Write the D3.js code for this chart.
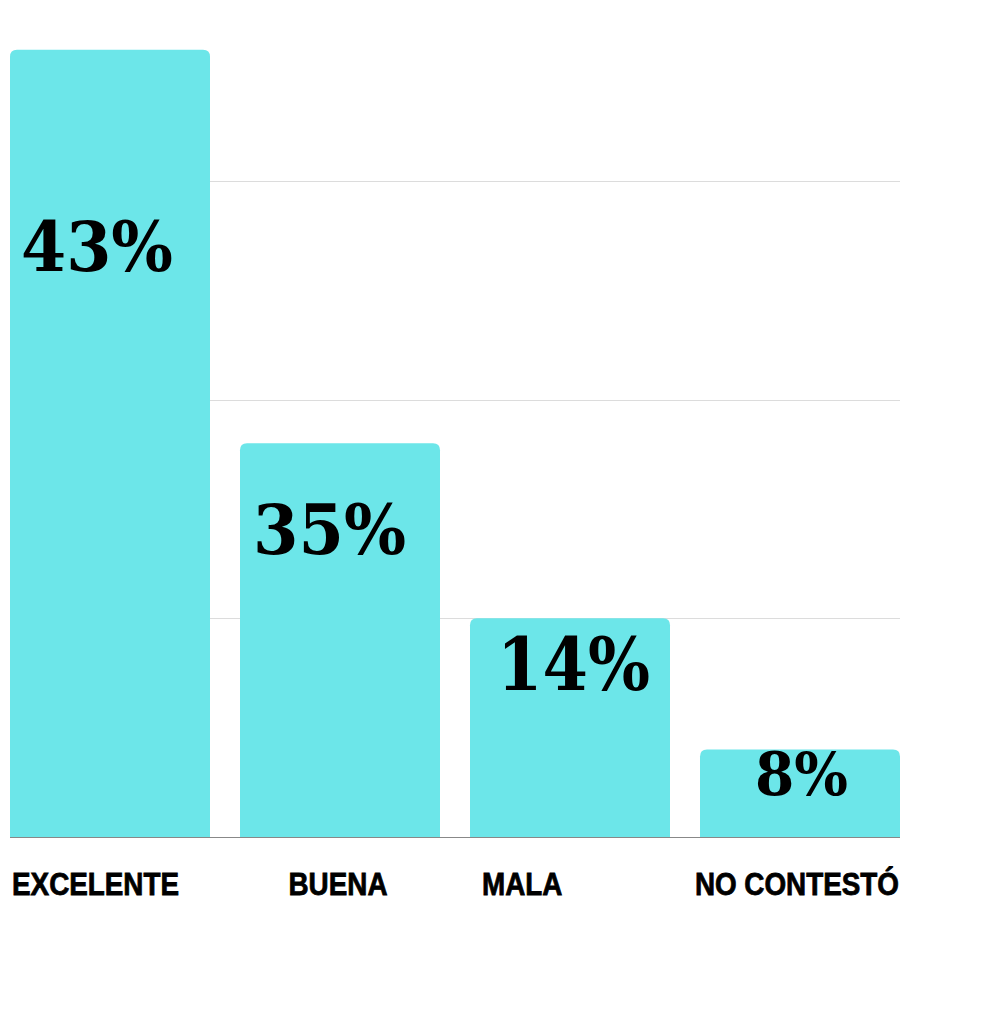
<!DOCTYPE html>
<html>
<head>
<meta charset="utf-8">
<script src="https://cdn.jsdelivr.net/npm/d3@7"></script>
<style>
    html, body { margin: 0; padding: 0; background: #fff; }
    svg { display: block; }
</style>
</head>
<body>
<div id="chart"></div>
<script>
// Encuesta: calificación — barras verticales con porcentaje dentro de cada barra

var categories = ['EXCELENTE', 'BUENA', 'MALA', 'NO CONTESTÓ'];
var values = [36, 18, 10, 4];          // altura de la barra (unidades del eje)
var valueLabels = ['43%', '35%', '14%', '8%'];
var gridTicks = [10, 20, 30];

var BAR_COLOR = '#6ce6e9';

// Ubicación de los textos (no son datos)
var valueLabelLayout = [
    { dx: 11, dy: 221, size: 70, w: 152 },
    { dx: 13, dy: 111, size: 70, w: 153 },
    { dx: 27, dy: 72, size: 72, w: 153 },
    { dx: 55, dy: 45, size: 59, w: 93 }
];
var catLabelLayout = [
    { anchor: 'start', dx: 2 },
    { anchor: 'middle', dx: -2 },
    { anchor: 'start', dx: 12 },
    { anchor: 'end', dx: -1 }
];

var width = 993, height = 1024;
var baseline = 837;

var svg = d3.select('#chart').append('svg')
    .attr('width', width)
    .attr('height', height);

var x = d3.scaleBand()
    .domain(categories)
    .range([10, 900])
    .paddingInner(30 / 230)
    .paddingOuter(0);

var y = d3.scaleLinear()
    .domain([0, 40])
    .range([baseline, baseline - 874.8]);

// Grid lines
svg.append('g')
    .selectAll('line')
    .data(gridTicks)
    .join('line')
    .attr('x1', 10)
    .attr('x2', 900)
    .attr('y1', function(d) { return Math.round(y(d)) + 0.5; })
    .attr('y2', function(d) { return Math.round(y(d)) + 0.5; })
    .attr('stroke', '#dcdcdc')
    .attr('stroke-width', 1);

// Baseline
svg.append('line')
    .attr('x1', 10)
    .attr('x2', 900)
    .attr('y1', baseline + 0.5)
    .attr('y2', baseline + 0.5)
    .attr('stroke', '#888')
    .attr('stroke-width', 1);

// Bars with rounded top corners
function topRoundedRect(x0, y0, w, h, r) {
    return 'M' + x0 + ',' + (y0 + h) +
        'V' + (y0 + r) +
        'Q' + x0 + ',' + y0 + ' ' + (x0 + r) + ',' + y0 +
        'H' + (x0 + w - r) +
        'Q' + (x0 + w) + ',' + y0 + ' ' + (x0 + w) + ',' + (y0 + r) +
        'V' + (y0 + h) + 'Z';
}

svg.append('g')
    .selectAll('path')
    .data(values)
    .join('path')
    .attr('d', function(d, i) {
        var top = y(d);
        return topRoundedRect(x(categories[i]), top, x.bandwidth(), y(0) - top, 7);
    })
    .attr('fill', BAR_COLOR);

// Percentage labels
svg.append('g')
    .selectAll('text')
    .data(valueLabels)
    .join('text')
    .attr('x', function(d, i) { return x(categories[i]) + valueLabelLayout[i].dx; })
    .attr('y', function(d, i) { return y(values[i]) + valueLabelLayout[i].dy; })
    .attr('font-family', "'DejaVu Serif', 'Liberation Serif', serif")
    .attr('font-weight', 'bold')
    .attr('font-size', function(d, i) { return valueLabelLayout[i].size + 'px'; })
    .attr('textLength', function(d, i) { return valueLabelLayout[i].w; })
    .attr('lengthAdjust', 'spacingAndGlyphs')
    .attr('fill', '#000')
    .text(function(d) { return d; });

// Category labels (condensed: Liberation Sans Bold squeezed horizontally)
var squeeze = 0.87;
svg.append('g')
    .selectAll('text')
    .data(categories)
    .join('text')
    .attr('transform', function(d, i) {
        var a = catLabelLayout[i];
        var base = a.anchor === 'start' ? x(d) : a.anchor === 'end' ? x(d) + x.bandwidth() : x(d) + x.bandwidth() / 2;
        return 'translate(' + (base + a.dx) + ',895) scale(' + squeeze + ',1)';
    })
    .attr('text-anchor', function(d, i) { return catLabelLayout[i].anchor; })
    .attr('font-family', "'Liberation Sans', Arial, sans-serif")
    .attr('font-weight', 'bold')
    .attr('font-size', '32px')
    .attr('fill', '#000')
    .attr('stroke', '#000')
    .attr('stroke-width', 0.8)
    .text(function(d) { return d; });
</script>
</body>
</html>
